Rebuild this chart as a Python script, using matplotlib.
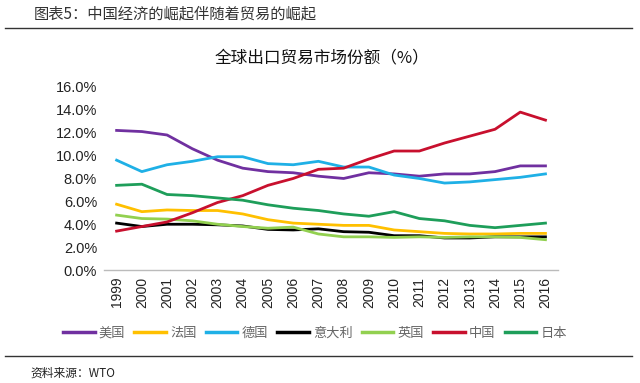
import matplotlib
matplotlib.use("Agg")
import matplotlib.pyplot as plt
from matplotlib.lines import Line2D

plt.rcParams['font.family'] = ['Noto Sans CJK SC', 'DejaVu Sans']

# data (export market share, %)
years = [str(y) for y in range(1999, 2017)]
usa = [12.2, 12.1, 11.8, 10.6, 9.6, 8.9, 8.6, 8.5, 8.2, 8.0, 8.5, 8.4, 8.2, 8.4, 8.4, 8.6, 9.1, 9.1]
france = [5.75, 5.1, 5.25, 5.2, 5.2, 4.9, 4.4, 4.1, 4.0, 3.9, 3.9, 3.5, 3.35, 3.2, 3.15, 3.15, 3.2, 3.2]
germany = [9.6, 8.6, 9.2, 9.5, 9.9, 9.9, 9.3, 9.2, 9.5, 9.0, 9.0, 8.3, 8.0, 7.6, 7.7, 7.9, 8.1, 8.4]
italy = [4.1, 3.8, 4.0, 4.0, 3.95, 3.85, 3.55, 3.5, 3.6, 3.35, 3.3, 3.0, 3.0, 2.8, 2.8, 2.9, 2.9, 2.9]
uk = [4.8, 4.5, 4.45, 4.3, 4.0, 3.8, 3.65, 3.75, 3.15, 2.9, 2.9, 2.85, 2.9, 2.85, 2.9, 2.9, 2.85, 2.65]
china = [3.4, 3.8, 4.2, 5.0, 5.9, 6.5, 7.4, 8.0, 8.8, 8.9, 9.7, 10.4, 10.4, 11.1, 11.7, 12.3, 13.8, 13.1]
japan = [7.4, 7.5, 6.6, 6.5, 6.3, 6.1, 5.7, 5.4, 5.2, 4.9, 4.7, 5.1, 4.5, 4.3, 3.9, 3.7, 3.9, 4.1]

names = ['美国', '法国', '德国', '意大利', '英国', '中国', '日本']
series = [usa, france, germany, italy, uk, china, japan]
colors = ['#7030A0', '#FFC000', '#1FB0E6', '#000000', '#92D050', '#C8102E', '#1E9E5A']

fig = plt.figure(figsize=(6.4, 3.83), dpi=100)
ax = fig.add_axes([0.1625, 0.295, 0.7095, 0.478])

x = list(range(len(years)))
for vals, c, n in zip(series, colors, names):
    ax.plot(x, vals, color=c, lw=2.0, label=n)

ax.set_xlim(-0.5, len(years) - 0.5)
ax.set_ylim(0, 16)
ax.set_yticks(range(0, 17, 2))
ax.set_yticklabels(['%.1f%%' % v for v in range(0, 17, 2)],
                   family='Liberation Sans', fontsize=10.5, color='#222222')
ax.set_xticks(x)
ax.set_xticklabels(years, rotation=90, family='Liberation Sans',
                   fontsize=10, color='#222222')
ax.tick_params(length=0, pad=5)
for s in ['top', 'right', 'left']:
    ax.spines[s].set_visible(False)
ax.spines['bottom'].set_color('#bbbbbb')
ax.spines['bottom'].set_linewidth(1.0)

handles = [Line2D([], [], color=c, lw=2.5) for c in colors]
leg = fig.legend(handles, names, loc='center', bbox_to_anchor=(0.492, 0.13),
                 ncol=7, frameon=False, fontsize=9.5, handlelength=2.4,
                 handletextpad=0.3, columnspacing=0.7)
for t in leg.get_texts():
    t.set_color('#666666')

fig.text(0.052, 0.963, '图表5：中国经济的崛起伴随着贸易的崛起', fontsize=11,
         color='#333333', va='center')
fig.add_artist(Line2D([0.008, 0.988], [0.927, 0.927], color='#333333', lw=1.0))
fig.text(0.503, 0.848, '全球出口贸易市场份额（%）', fontsize=12,
         color='#111111', ha='center', va='center', weight='medium')
fig.add_artist(Line2D([0.008, 0.988], [0.07, 0.07], color='#333333', lw=1.0))
fig.text(0.048, 0.025, '资料来源：WTO', fontsize=8.5, style='italic',
         color='#222222', va='center')

fig.savefig('out.png', dpi=100)
